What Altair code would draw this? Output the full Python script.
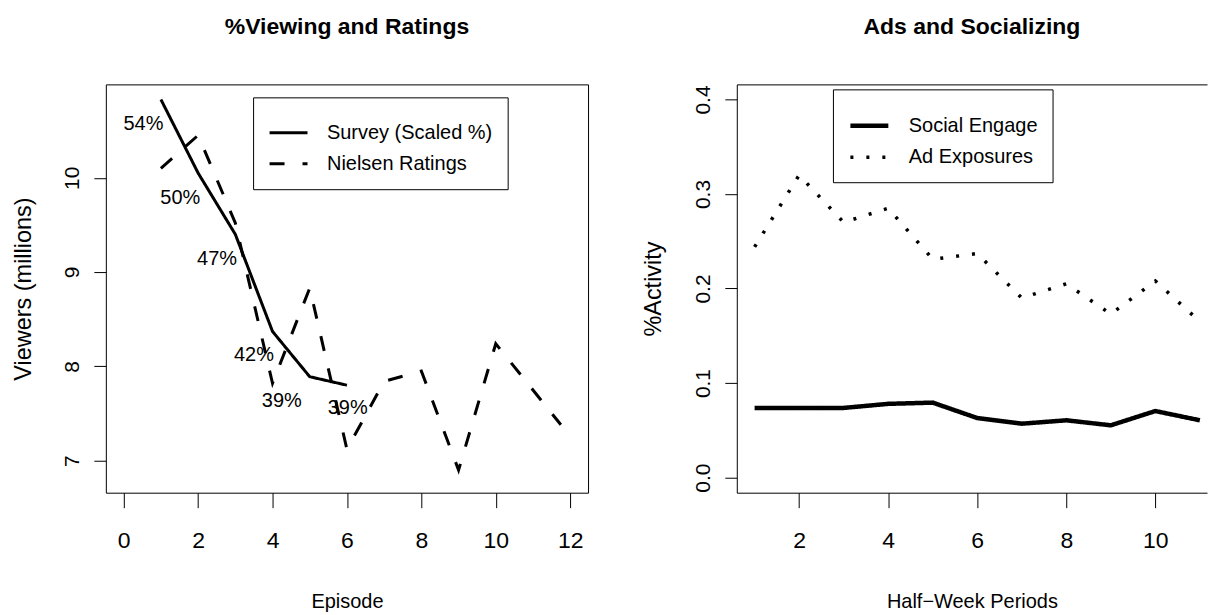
import altair as alt
import pandas as pd

# ---------------- data ----------------
survey_episode = [1, 2, 3, 4, 5, 6]
survey_viewers = [10.83, 10.05, 9.40, 8.37, 7.89, 7.80]
nielsen_episode = [1, 2, 3, 4, 5, 6, 7, 8, 9, 10, 11.75]
nielsen_viewers = [10.10, 10.45, 9.52, 7.82, 8.83, 7.12, 7.84, 7.95, 6.90, 8.24, 7.38]
pct_text = ["54%", "50%", "47%", "42%", "39%", "39%"]
pct_x = [0.53, 1.52, 2.51, 3.50, 4.25, 6.02]
pct_y = [10.57, 9.79, 9.14, 8.12, 7.63, 7.56]

periods = [1, 2, 3, 4, 5, 6, 7, 8, 9, 10, 11]
social_engage = [0.0736, 0.0737, 0.0737, 0.078, 0.0793, 0.063, 0.057, 0.0606, 0.0553, 0.0704, 0.0606]
ad_exposures = [0.244, 0.320, 0.270, 0.285, 0.231, 0.237, 0.190, 0.205, 0.173, 0.208, 0.165]

left_series = ["Survey (Scaled %)", "Nielsen Ratings"]
right_series = ["Social Engage", "Ad Exposures"]
episode_ticks = [0, 2, 4, 6, 8, 10, 12]
viewer_ticks = [7, 8, 9, 10]
period_ticks = [2, 4, 6, 8, 10]
activity_ticks = [0.0, 0.1, 0.2, 0.3, 0.4]

FONT = "Liberation Sans, Arial, Helvetica"

left_df = pd.DataFrame({
    "episode": survey_episode + nielsen_episode,
    "viewers": survey_viewers + nielsen_viewers,
    "series": [left_series[0]] * len(survey_episode) + [left_series[1]] * len(nielsen_episode),
})
label_df = pd.DataFrame({"x": pct_x, "y": pct_y, "text": pct_text})
right_df = pd.DataFrame({
    "period": periods + periods,
    "activity": social_engage + ad_exposures,
    "series": [right_series[0]] * len(periods) + [right_series[1]] * len(periods),
})


def legend(x, y):
    return alt.Legend(
        title=None, orient="none", legendX=x, legendY=y,
        strokeColor="black", fillColor="white", padding=15, cornerRadius=0,
        labelFont=FONT, labelFontSize=20, labelLimit=400, labelColor="black",
        labelOffset=18, symbolSize=1444, symbolType="stroke",
        symbolStrokeColor="black", symbolStrokeWidth=3, rowPadding=0,
    )


def xaxis(values, title, domain=False):
    return alt.Axis(values=values, title=title, tickSize=15, tickColor="black",
                    labelFont=FONT, labelFontSize=23, labelColor="black", labelPadding=22,
                    titleFont=FONT, titleFontSize=20, titleFontWeight="normal",
                    titleColor="black", titleBaseline="alphabetic", titleY=115,
                    domain=domain, domainColor="black", grid=False, labelFlush=False)


def yaxis(values, title, title_x, fmt, domain=False):
    return alt.Axis(values=values, title=title, tickSize=12, tickColor="black",
                    format=fmt, labelFont=FONT, labelFontSize=21, labelColor="black",
                    labelAngle=270, labelAlign="center", labelBaseline="bottom",
                    labelPadding=11, titleFont=FONT, titleFontSize=23.5,
                    titleFontWeight="normal", titleColor="black", titleX=title_x,
                    titleBaseline="middle", domain=domain, domainColor="black",
                    grid=False, labelFlush=False)


def panel_title(text):
    return alt.TitleParams(text, font=FONT, fontSize=23, fontWeight="bold",
                           color="black", anchor="middle", baseline="alphabetic", offset=27)


# ---------------- left panel ----------------
lx = alt.Scale(domain=[-0.48, 12.48], nice=False, zero=False)
ly = alt.Scale(domain=[6.66, 10.99], nice=False, zero=False)

left_lines = alt.Chart(left_df).mark_line(color="black", strokeWidth=3).encode(
    x=alt.X("episode:Q", scale=lx, axis=xaxis(episode_ticks, "Episode")),
    y=alt.Y("viewers:Q", scale=ly, axis=yaxis(viewer_ticks, "Viewers (millions)", -82, "d")),
    strokeDash=alt.StrokeDash("series:N", sort=left_series,
                              scale=alt.Scale(domain=left_series, range=[[1, 0], [15, 18]]),
                              legend=legend(147.5, 13)),
)
left_labels = alt.Chart(label_df).mark_text(font=FONT, fontSize=20, color="black",
                                            align="center", baseline="middle").encode(
    x=alt.X("x:Q", scale=lx), y=alt.Y("y:Q", scale=ly), text="text:N")

left = alt.layer(left_lines, left_labels).properties(
    width=483, height=409, title=panel_title("%Viewing and Ratings"),
)

# ---------------- right panel ----------------
# the reference's box runs off the right edge of the image; the scale keeps
# the reference's pixels-per-period and simply stops before the page edge
rx = alt.Scale(domain=[0.6, 11.16], nice=False, zero=False)
ry = alt.Scale(domain=[-0.016, 0.416], nice=False, zero=False)

right_lines = alt.Chart(right_df).mark_line(color="black").encode(
    x=alt.X("period:Q", scale=rx, axis=xaxis(period_ticks, "Half\u2212Week Periods", domain=True)),
    y=alt.Y("activity:Q", scale=ry, axis=yaxis(activity_ticks, "%Activity", -83, ".1f", domain=True)),
    strokeDash=alt.StrokeDash("series:N", sort=right_series,
                              scale=alt.Scale(domain=right_series, range=[[1, 0], [3, 13]]),
                              legend=legend(96.3, 5)),
    strokeWidth=alt.StrokeWidth("series:N", sort=right_series,
                                scale=alt.Scale(domain=right_series, range=[4.5, 3.5]),
                                legend=legend(96.3, 5)),
)
# top border of the box, drawn as a bare top axis line
right_top = alt.Chart(right_df).mark_point(opacity=0).encode(
    x=alt.X("period:Q", scale=rx,
            axis=alt.Axis(orient="top", labels=False, ticks=False, title=None,
                          domain=True, domainColor="black", grid=False)),
)
right = alt.layer(right_lines, right_top).resolve_axis(x="independent").properties(
    width=471, height=409, title=panel_title("Ads and Socializing"),
    view=alt.ViewBackground(stroke=None),
)

chart = alt.hconcat(left, right, spacing=53).properties(
    padding={"left": 3, "top": 7, "right": 0, "bottom": 0},
    background="white",
).configure_view(stroke="black", strokeWidth=1).resolve_scale(
    strokeDash="independent", strokeWidth="independent")

chart.save("out.html", embed_options={"renderer": "svg", "actions": False})
